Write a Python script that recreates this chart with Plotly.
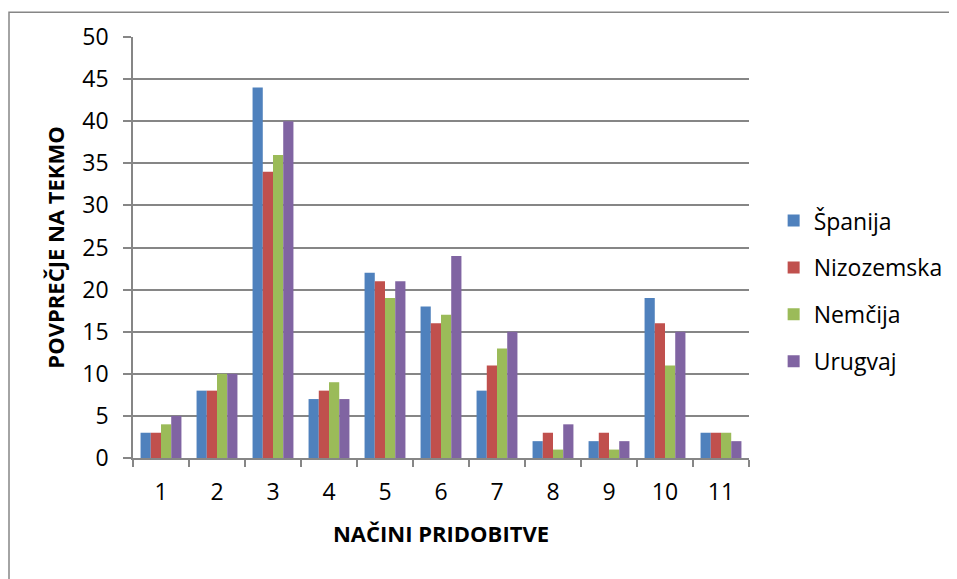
import plotly.graph_objects as go

# kategorije (načini pridobitve) in povprečja po reprezentancah
categories = ['1', '2', '3', '4', '5', '6', '7', '8', '9', '10', '11']
spanija = [3, 8, 44, 7, 22, 18, 8, 2, 2, 19, 3]
nizozemska = [3, 8, 34, 8, 21, 16, 11, 3, 3, 16, 3]
nemcija = [4, 10, 36, 9, 19, 17, 13, 1, 1, 11, 3]
urugvaj = [5, 10, 40, 7, 21, 24, 15, 4, 2, 15, 2]

series = [
    ('Španija', spanija, '#4F81BD'),
    ('Nizozemska', nizozemska, '#C0504D'),
    ('Nemčija', nemcija, '#9BBB59'),
    ('Urugvaj', urugvaj, '#8064A2'),
]

FONT = "Open Sans, Lato, DejaVu Sans, sans-serif"
GRID = '#868686'

# the page body adds 8px of margin, so the plot box is shifted back by that
L, T, R, B = 125, 26, 216, 129
PW = 957 - L - R
PH = 579 - T - B

fig = go.Figure()
for name, vals, color in series:
    fig.add_trace(go.Bar(
        x=categories, y=vals, name=name,
        marker=dict(color=color, line=dict(width=0)),
        legendgroup=name,
    ))

fig.update_layout(
    width=957, height=579,
    margin=dict(l=L, r=R, t=T, b=B),
    paper_bgcolor='white', plot_bgcolor='white',
    barmode='group', bargap=0.27, bargroupgap=0,
    font=dict(family=FONT, size=23, color='black'),
    legend=dict(
        x=1.04, y=0.615, xanchor='left', yanchor='top',
        font=dict(size=23), tracegroupgap=14,
        bgcolor='rgba(0,0,0,0)',
    ),
    shapes=[dict(
        type='rect', xref='paper', yref='paper',
        x0=(1 - L) / PW, x1=(980 - L) / PW,
        y0=-(B + 20) / PH, y1=1 + (T - 1) / PH,
        line=dict(color=GRID, width=1.5), layer='below',
    )],
)

fig.update_xaxes(
    type='category', showgrid=False,
    showline=True, linecolor=GRID, linewidth=1.5,
    ticks='outside', tickson='boundaries', ticklen=7, tickcolor=GRID, tickwidth=1.5,
    ticklabelstandoff=13,
    tickfont=dict(size=23),
    title=dict(text='<b>NAČINI PRIDOBITVE</b>', font=dict(size=22), standoff=20),
)
fig.update_yaxes(
    range=[0, 50], dtick=5,
    showgrid=True, gridcolor=GRID, gridwidth=1.5,
    showline=True, linecolor=GRID, linewidth=1.5,
    ticks='outside', ticklen=8, tickcolor=GRID, tickwidth=1.5,
    ticklabelstandoff=10,
    tickfont=dict(size=23),
    zeroline=False,
    title=dict(text='<b>POVPREČJE NA TEKMO</b>', font=dict(size=22), standoff=12),
)

fig.write_html("out.html")
